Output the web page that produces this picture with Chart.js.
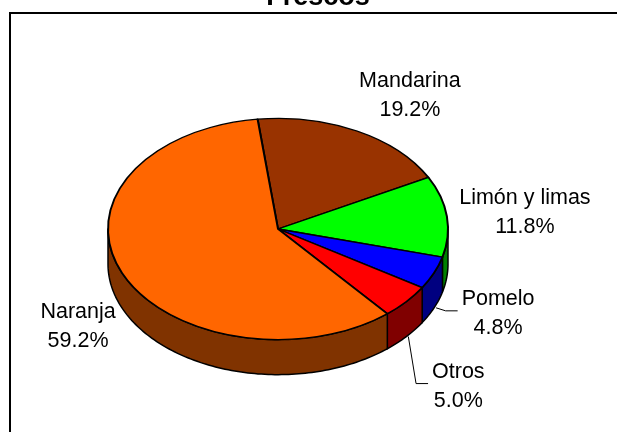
<!DOCTYPE html>
<html>
<head>
<meta charset="utf-8">
<script src="https://cdn.jsdelivr.net/npm/chart.js@4"></script>
<style>
  html, body { margin: 0; padding: 0; background: #fff; }
  #wrap { width: 617px; height: 432px; position: relative; }
</style>
</head>
<body>
<div id="wrap"><canvas id="pieCanvas" width="617" height="432"></canvas></div>
<script>
// --- Data ---
const TITLE = 'Frescos';
const categories = ['Mandarina', 'Limón y limas', 'Pomelo', 'Otros', 'Naranja'];
const shares = [19.2, 11.8, 4.8, 5.0, 59.2];

// --- Styles ---
const topColors = ['#993300', '#00FF00', '#0000FF', '#FF0000', '#FF6600'];
const sideColors = ['#4D1A00', '#008000', '#000080', '#800000', '#803300'];
// label nudge from the slice mid point on the rim (px), and whether it gets a leader line
const labelNudge = [[53, -44], [78, -12], [64, 32], [52, 76], [-44, 45]];
const hasLeader = [false, false, true, true, false];

const START_ANGLE = -6.9;   // degrees clockwise from 12 o'clock
const DEPTH = 35;           // thickness of the 3D pie
const TILT = 110 / 169;     // vertical squish of the top face
const FONT = '21.5px "Liberation Sans", Arial, sans-serif';
const LINE_H = 29;

function frontRanges(a0, a1) {
    // parts of [a0,a1] where the rim faces the viewer (sin > 0)
    const out = [];
    for (let k = -2; k <= 2; k++) {
        const lo = Math.max(a0, 2 * Math.PI * k);
        const hi = Math.min(a1, 2 * Math.PI * k + Math.PI);
        if (hi > lo) out.push([lo, hi]);
    }
    return out;
}

const pie3d = {
    id: 'pie3d',
    beforeDraw(chart) {
        const ctx = chart.ctx;
        ctx.save();
        ctx.fillStyle = '#fff';
        ctx.fillRect(0, 0, chart.width, chart.height);
        ctx.strokeStyle = '#000';
        ctx.lineWidth = 2;
        ctx.strokeRect(10, 13, 800, 600);
        ctx.fillStyle = '#000';
        ctx.font = 'bold 27px "Liberation Sans", Arial, sans-serif';
        ctx.textAlign = 'center';
        ctx.textBaseline = 'alphabetic';
        ctx.fillText(TITLE, 318, 5);
        ctx.restore();
    },
    beforeDatasetsDraw(chart) {
        const ctx = chart.ctx;
        const arcs = chart.getDatasetMeta(0).data;
        ctx.save();
        ctx.strokeStyle = '#000';
        ctx.lineWidth = 1.5;
        ctx.lineJoin = 'round';
        arcs.forEach((arc, i) => {
            const cx = arc.x, cy = arc.y, r = arc.outerRadius, ry = r * TILT;
            frontRanges(arc.startAngle, arc.endAngle).forEach(([s, e]) => {
                const steps = Math.max(4, Math.ceil((e - s) / 0.02));
                ctx.beginPath();
                for (let j = 0; j <= steps; j++) {
                    const t = s + (e - s) * j / steps;
                    const px = cx + r * Math.cos(t), py = cy + ry * Math.sin(t);
                    if (j === 0) ctx.moveTo(px, py); else ctx.lineTo(px, py);
                }
                for (let j = steps; j >= 0; j--) {
                    const t = s + (e - s) * j / steps;
                    ctx.lineTo(cx + r * Math.cos(t), cy + ry * Math.sin(t) + DEPTH);
                }
                ctx.closePath();
                ctx.fillStyle = sideColors[i];
                ctx.fill();
                ctx.stroke();
            });
        });
        ctx.restore();
        // squish the pie drawn by Chart.js into an ellipse
        const a = arcs[0];
        ctx.save();
        ctx.translate(a.x, a.y);
        ctx.scale(1, TILT);
        ctx.translate(-a.x, -a.y);
    },
    afterDatasetsDraw(chart) {
        const ctx = chart.ctx;
        ctx.restore();
        const arcs = chart.getDatasetMeta(0).data;
        ctx.save();
        ctx.font = FONT;
        ctx.fillStyle = '#000';
        ctx.strokeStyle = '#000';
        ctx.lineWidth = 1;
        ctx.textAlign = 'center';
        ctx.textBaseline = 'alphabetic';
        arcs.forEach((arc, i) => {
            const mid = (arc.startAngle + arc.endAngle) / 2;
            const r = arc.outerRadius;
            const mx = arc.x + r * Math.cos(mid);
            const my = arc.y + r * TILT * Math.sin(mid);
            const lx = mx + labelNudge[i][0];
            const ly = my + labelNudge[i][1];
            const line1 = categories[i];
            const line2 = shares[i].toFixed(1) + '%';
            ctx.fillText(line1, lx, ly);
            ctx.fillText(line2, lx, ly + LINE_H);
            if (hasLeader[i]) {
                const w = ctx.measureText(line1).width;
                const ex = lx - w / 2 - 4, ey = ly + 6;
                ctx.beginPath();
                ctx.moveTo(mx + 2, my + DEPTH);
                ctx.lineTo(ex - 12, ey);
                ctx.lineTo(ex, ey);
                ctx.stroke();
            }
        });
        ctx.restore();
    }
};

new Chart(document.getElementById('pieCanvas'), {
    type: 'pie',
    data: {
        labels: categories,
        datasets: [{
            data: shares,
            backgroundColor: topColors,
            borderColor: '#000',
            borderWidth: 2,
            borderJoinStyle: 'round',
            clip: false
        }]
    },
    options: {
        responsive: false,
        animation: false,
        events: [],
        rotation: START_ANGLE,
        layout: { padding: { left: 107, right: 168, top: 58, bottom: 32 } },
        plugins: {
            legend: { display: false },
            title: { display: false },
            tooltip: { enabled: false }
        }
    },
    plugins: [pie3d]
});
</script>
</body>
</html>
